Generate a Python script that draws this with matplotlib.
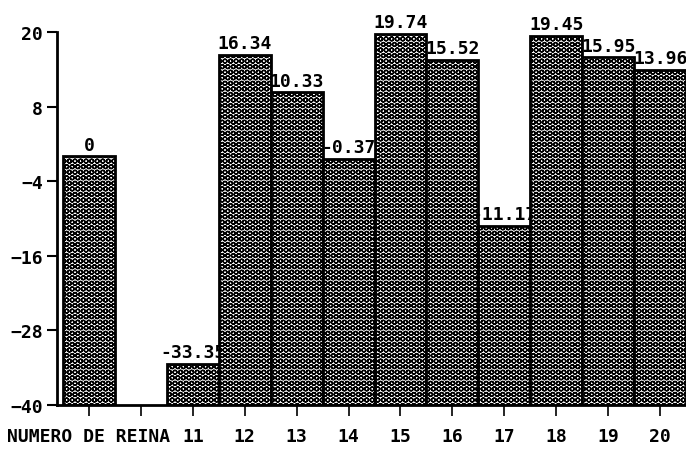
# -*- coding: utf-8 -*-
import numpy as np
import matplotlib.pyplot as plt

# Dados:
categorias = ['NUMERO DE REINA', '', '11', '12', '13', '14', '15', '16', '17', '18', '19', '20']
valores = [0, np.nan, -33.35, 16.34, 10.33, -0.37, 19.74, 15.52, -11.17, 19.45, 15.95, 13.96]
rotulos = ['0', '', '-33.35', '16.34', '10.33', '-0.37', '19.74', '15.52', '-11.17', '19.45', '15.95', '13.96']
yticks = [-40, -28, -16, -4, 8, 20]
base = -40

plt.rcParams['font.family'] = ['DejaVu Sans Mono']
plt.rcParams['font.weight'] = 'bold'
plt.rcParams['hatch.linewidth'] = 1.0
plt.rcParams['hatch.color'] = 'black'

fig = plt.figure(figsize=(6.86, 4.52), dpi=100)
ax = fig.add_axes([0.0831, 0.1018, 0.917, 0.825])

x = np.arange(len(categorias))
for i, (v, r) in enumerate(zip(valores, rotulos)):
    if np.isnan(v):
        continue
    ax.bar(x[i], v - base, bottom=base, width=1.0, facecolor='white',
           edgecolor='black', linewidth=2.0, hatch='OOO', zorder=2 + 2 * i)
    ax.text(x[i], v + 0.4, r, ha='center', va='bottom', fontsize=13,
            fontweight='bold', zorder=3 + 2 * i)

ax.set_xlim(-0.615, 11.5)
ax.set_ylim(base, 20)
ax.set_yticks(yticks)
ax.set_xticks(x)
ax.set_xticklabels(categorias)

ax.spines['top'].set_visible(False)
ax.spines['right'].set_visible(False)
ax.spines['left'].set_linewidth(2)
ax.spines['bottom'].set_linewidth(2)
ax.tick_params(axis='x', length=8, width=1.2, pad=8, labelsize=13)
ax.tick_params(axis='y', length=7, width=1.5, pad=3, labelsize=13)

fig.savefig('out.png', dpi=100)
